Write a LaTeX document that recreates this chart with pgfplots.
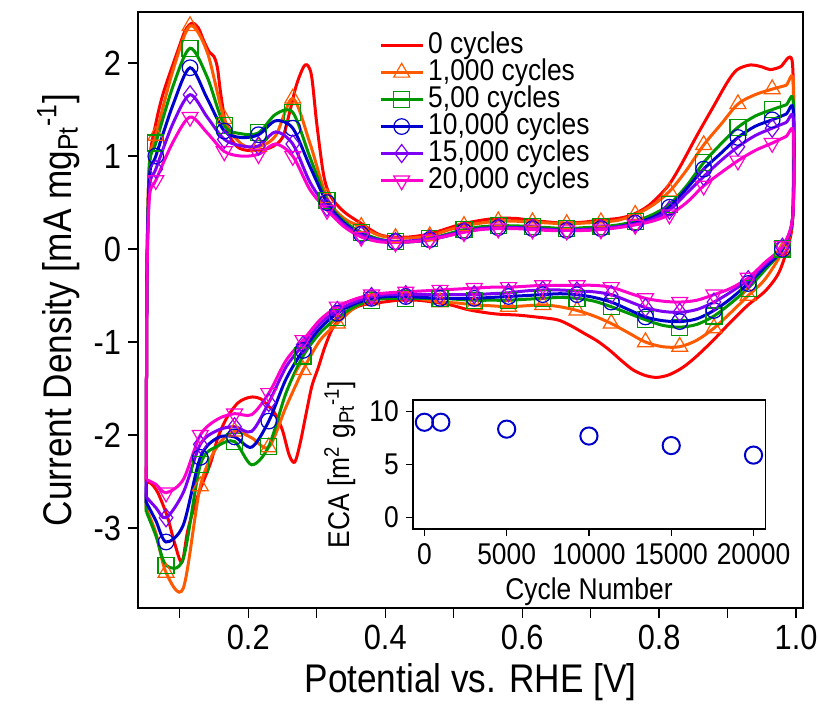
\documentclass[border=0pt]{standalone}
\usepackage{fontspec}
\setmainfont{Liberation Sans}[FakeStretch=0.88]
\usepackage{pgfplots}
\pgfplotsset{compat=1.18}
\definecolor{cRed}{RGB}{255,0,0}
\definecolor{cOrange}{RGB}{255,90,0}
\definecolor{cGreen}{RGB}{0,150,0}
\definecolor{cBlue}{RGB}{0,0,204}
\definecolor{cPurple}{RGB}{125,0,245}
\definecolor{cMag}{RGB}{255,0,204}
\tikzset{mk/.style={mark indices={5,7,9,11,13,15,17,19,21,23,25,27,29,31,33,35,37,39,41,45,47,49,51,53,55,57,59,61,63,65,67,69,71,73,75,77,79,81}}}
\begin{document}
\begin{tikzpicture}
\useasboundingbox (-69pt,-48pt) rectangle (340pt,304pt);
\begin{axis}[
  at={(0,0)}, anchor=south west,
  scale only axis, width=332.5pt, height=298pt,
  xmin=0.039, xmax=1.010, ymin=-3.86, ymax=2.55,
  xtick={0.2,0.4,0.6,0.8,1.0}, xticklabels={0.2,0.4,0.6,0.8,1.0},
  minor xtick={0.1,0.3,0.5,0.7,0.9},
  ytick={-3,-2,-1,0,1,2}, yticklabels={-3,-2,-1,0,1,2},
  tick pos=left, tick align=outside,
  major tick length=5pt, minor tick length=5pt,
  tick style={black, line width=0.7pt},
  axis line style={line width=0.7pt},
  ticklabel style={font=\fontsize{17.5}{17.5}\selectfont},
  label style={font=\fontsize{20}{20}\selectfont},
  xlabel={Potential vs. RHE [V]},
  ylabel={Current Density [mA mg\textsubscript{Pt}\textsuperscript{-1}]},
  legend cell align=left,
  legend style={at={(0.362,0.967)}, anchor=north west, draw=none, fill=none,
    inner sep=0pt, font=\fontsize{15}{15}\selectfont,
    nodes={inner ysep=0pt, inner xsep=2pt, text height=10.5pt, text depth=3pt}},
  legend image code/.code={\draw[mark indices={2}] plot coordinates {(0cm,0cm) (0.37cm,0cm) (0.74cm,0cm)};},
  every axis plot/.append style={smooth, line width=1.5pt},
]
% 0 cycles
\addplot[cRed, no marks] coordinates {
(0.051,-2.50)(0.0515,-1.20)(0.0525,0.00)(0.056,0.95)(0.065,1.35)(0.076,1.68)(0.096,2.11)(0.108,2.35)(0.118,2.43)(0.127,2.38)(0.135,2.24)(0.143,2.12)(0.150,2.07)(0.155,1.95)(0.160,1.66)(0.169,1.28)(0.184,1.10)(0.203,1.06)(0.232,1.09)(0.250,1.20)(0.261,1.49)(0.271,1.78)(0.283,1.98)(0.292,1.88)(0.300,1.35)(0.310,0.80)(0.320,0.57)(0.340,0.40)(0.364,0.28)(0.390,0.16)(0.410,0.13)(0.435,0.13)(0.463,0.16)(0.490,0.22)(0.512,0.27)(0.540,0.31)(0.563,0.33)(0.590,0.33)(0.612,0.31)(0.640,0.29)(0.661,0.28)(0.690,0.29)(0.711,0.31)(0.740,0.33)(0.761,0.37)(0.785,0.47)(0.812,0.67)(0.830,0.88)(0.855,1.22)(0.879,1.53)(0.900,1.80)(0.914,1.93)(0.933,1.98)(0.950,1.96)(0.962,1.93)(0.977,1.96)(0.994,2.03)(0.996,1.20)(0.995,0.35)(0.990,0.08)(0.975,-0.25)(0.955,-0.45)(0.930,-0.60)(0.905,-0.78)(0.879,-0.98)(0.855,-1.15)(0.835,-1.27)(0.815,-1.35)(0.797,-1.38)(0.780,-1.36)(0.762,-1.30)(0.745,-1.20)(0.728,-1.09)(0.710,-0.99)(0.689,-0.90)(0.670,-0.82)(0.651,-0.76)(0.620,-0.73)(0.593,-0.71)(0.565,-0.70)(0.543,-0.68)(0.520,-0.65)(0.495,-0.60)(0.470,-0.57)(0.447,-0.55)(0.420,-0.55)(0.397,-0.57)(0.375,-0.59)(0.359,-0.62)(0.340,-0.71)(0.324,-0.84)(0.312,-1.05)(0.302,-1.28)(0.293,-1.47)(0.285,-1.75)(0.276,-2.08)(0.268,-2.29)(0.260,-2.22)(0.250,-1.95)(0.240,-1.78)(0.230,-1.69)(0.218,-1.61)(0.206,-1.59)(0.195,-1.61)(0.184,-1.66)(0.169,-1.81)(0.156,-2.02)(0.145,-2.30)(0.130,-2.58)(0.120,-2.80)(0.111,-3.05)(0.103,-3.37)(0.092,-3.15)(0.082,-2.88)(0.068,-2.62)(0.058,-2.52)(0.0515,-2.50)
};
\addlegendentry{0 cycles}
% 1,000 cycles
\addplot[cOrange, mark=triangle, mark size=4.6pt, mark options={solid, line width=0.6pt}, mk] coordinates {
(0.051,-2.80)(0.0515,-1.20)(0.0525,0.00)(0.056,0.95)
(0.065,1.22)(0.090,1.92)(0.115,2.40)(0.140,2.12)(0.165,1.40)(0.190,1.13)(0.215,1.10)(0.240,1.22)(0.265,1.62)(0.290,1.14)(0.315,0.55)(0.340,0.33)(0.365,0.24)(0.390,0.15)(0.415,0.12)(0.440,0.12)(0.465,0.14)(0.490,0.20)(0.515,0.25)(0.540,0.28)(0.565,0.30)(0.590,0.30)(0.615,0.29)(0.640,0.28)(0.665,0.27)(0.690,0.28)(0.715,0.29)(0.740,0.31)(0.765,0.37)(0.790,0.47)(0.815,0.62)(0.840,0.85)(0.865,1.12)(0.890,1.34)(0.915,1.56)(0.940,1.66)(0.965,1.72)
(0.985,1.76)(0.996,1.78)(0.995,0.35)
(0.980,-0.02)(0.955,-0.32)(0.930,-0.50)(0.905,-0.68)(0.880,-0.85)(0.855,-0.98)(0.830,-1.05)(0.805,-1.05)(0.780,-1.00)(0.755,-0.90)(0.730,-0.80)(0.705,-0.72)(0.680,-0.66)(0.655,-0.62)(0.630,-0.60)(0.605,-0.61)(0.580,-0.62)(0.555,-0.61)(0.530,-0.60)(0.505,-0.58)(0.480,-0.57)(0.455,-0.54)(0.430,-0.51)(0.405,-0.51)(0.380,-0.55)(0.355,-0.63)(0.330,-0.80)(0.305,-0.98)(0.280,-1.30)(0.255,-1.70)(0.230,-2.13)(0.205,-2.03)(0.180,-1.96)(0.155,-2.12)(0.130,-2.55)(0.105,-3.65)(0.080,-3.48)
(0.065,-3.05)(0.0515,-2.80)
};
\addlegendentry{1,000 cycles}
% 5,000 cycles
\addplot[cGreen, mark=square, mark size=4pt, mark options={solid, line width=0.6pt}, mk] coordinates {
(0.051,-2.83)(0.0515,-1.20)(0.0525,0.00)(0.056,0.92)
(0.065,1.14)(0.090,1.75)(0.115,2.16)(0.140,1.85)(0.165,1.33)(0.190,1.24)(0.215,1.25)(0.240,1.45)(0.265,1.47)(0.290,0.99)(0.315,0.52)(0.340,0.30)(0.365,0.18)(0.390,0.11)(0.415,0.08)(0.440,0.08)(0.465,0.11)(0.490,0.16)(0.515,0.21)(0.540,0.24)(0.565,0.25)(0.590,0.25)(0.615,0.24)(0.640,0.23)(0.665,0.22)(0.690,0.23)(0.715,0.24)(0.740,0.26)(0.765,0.30)(0.790,0.37)(0.815,0.48)(0.840,0.68)(0.865,0.93)(0.890,1.13)(0.915,1.31)(0.940,1.43)(0.965,1.50)
(0.985,1.55)(0.996,1.57)(0.995,0.35)
(0.980,0.00)(0.955,-0.22)(0.930,-0.42)(0.905,-0.58)(0.880,-0.72)(0.855,-0.81)(0.830,-0.84)(0.805,-0.82)(0.780,-0.76)(0.755,-0.69)(0.730,-0.62)(0.705,-0.56)(0.680,-0.53)(0.655,-0.52)(0.630,-0.53)(0.605,-0.54)(0.580,-0.55)(0.555,-0.55)(0.530,-0.55)(0.505,-0.54)(0.480,-0.53)(0.455,-0.53)(0.430,-0.53)(0.405,-0.53)(0.380,-0.55)(0.355,-0.62)(0.330,-0.74)(0.305,-0.90)(0.280,-1.15)(0.255,-1.55)(0.230,-2.12)(0.205,-2.32)(0.180,-2.07)(0.155,-2.12)(0.130,-2.32)(0.105,-3.33)(0.080,-3.40)
(0.065,-3.08)(0.0515,-2.83)
};
\addlegendentry{5,00 cycles}
% 10,000 cycles
\addplot[cBlue, mark=o, mark size=3.9pt, mark options={solid, line width=0.6pt}, mk] coordinates {
(0.051,-2.73)(0.0515,-1.20)(0.0525,-0.05)(0.056,0.80)
(0.065,1.00)(0.090,1.55)(0.115,1.95)(0.140,1.62)(0.165,1.27)(0.190,1.20)(0.215,1.23)(0.240,1.38)(0.265,1.30)(0.290,0.89)(0.315,0.50)(0.340,0.28)(0.365,0.16)(0.390,0.10)(0.415,0.08)(0.440,0.08)(0.465,0.10)(0.490,0.14)(0.515,0.19)(0.540,0.22)(0.565,0.23)(0.590,0.23)(0.615,0.22)(0.640,0.21)(0.665,0.20)(0.690,0.21)(0.715,0.22)(0.740,0.24)(0.765,0.28)(0.790,0.34)(0.815,0.45)(0.840,0.65)(0.865,0.86)(0.890,1.03)(0.915,1.20)(0.940,1.32)(0.965,1.39)
(0.985,1.45)(0.996,1.48)(0.995,0.35)
(0.980,0.00)(0.955,-0.19)(0.930,-0.37)(0.905,-0.53)(0.880,-0.66)(0.855,-0.75)(0.830,-0.78)(0.805,-0.77)(0.780,-0.73)(0.755,-0.65)(0.730,-0.57)(0.705,-0.52)(0.680,-0.49)(0.655,-0.48)(0.630,-0.49)(0.605,-0.50)(0.580,-0.51)(0.555,-0.52)(0.530,-0.53)(0.505,-0.53)(0.480,-0.53)(0.455,-0.52)(0.430,-0.51)(0.405,-0.51)(0.380,-0.53)(0.355,-0.59)(0.330,-0.69)(0.305,-0.85)(0.280,-1.09)(0.255,-1.40)(0.230,-1.85)(0.205,-2.13)(0.180,-2.02)(0.155,-2.03)(0.130,-2.24)(0.105,-2.97)(0.080,-3.15)
(0.065,-2.92)(0.0515,-2.73)
};
\addlegendentry{10,000 cycles}
% 15,000 cycles
\addplot[cPurple, mark=diamond, mark size=4.5pt, mark options={solid, line width=0.6pt}, mk] coordinates {
(0.051,-2.67)(0.0515,-1.20)(0.0525,-0.10)(0.056,0.68)
(0.065,0.86)(0.090,1.35)(0.115,1.66)(0.140,1.42)(0.165,1.18)(0.190,1.11)(0.215,1.11)(0.240,1.26)(0.265,1.13)(0.290,0.72)(0.315,0.45)(0.340,0.26)(0.365,0.15)(0.390,0.10)(0.415,0.08)(0.440,0.09)(0.465,0.11)(0.490,0.15)(0.515,0.19)(0.540,0.22)(0.565,0.23)(0.590,0.23)(0.615,0.22)(0.640,0.21)(0.665,0.20)(0.690,0.21)(0.715,0.22)(0.740,0.24)(0.765,0.27)(0.790,0.32)(0.815,0.42)(0.840,0.60)(0.865,0.78)(0.890,0.95)(0.915,1.10)(0.940,1.22)(0.965,1.30)
(0.985,1.36)(0.996,1.39)(0.995,0.35)
(0.980,0.02)(0.955,-0.16)(0.930,-0.33)(0.905,-0.46)(0.880,-0.57)(0.855,-0.65)(0.830,-0.68)(0.805,-0.67)(0.780,-0.63)(0.755,-0.56)(0.730,-0.49)(0.705,-0.46)(0.680,-0.45)(0.655,-0.44)(0.630,-0.44)(0.605,-0.45)(0.580,-0.47)(0.555,-0.48)(0.530,-0.49)(0.505,-0.49)(0.480,-0.49)(0.455,-0.49)(0.430,-0.49)(0.405,-0.49)(0.380,-0.51)(0.355,-0.57)(0.330,-0.66)(0.305,-0.80)(0.280,-1.03)(0.255,-1.27)(0.230,-1.65)(0.205,-1.96)(0.180,-1.91)(0.155,-1.95)(0.130,-2.10)(0.105,-2.62)(0.080,-2.89)
(0.065,-2.78)(0.0515,-2.67)
};
\addlegendentry{15,000 cycles}
% 20,000 cycles
\addplot[cMag, mark=triangle, mark size=4.6pt, mark options={solid, rotate=180, line width=0.6pt}, mk] coordinates {
(0.051,-2.48)(0.0515,-1.20)(0.0525,-0.15)(0.056,0.58)
(0.065,0.74)(0.090,1.15)(0.115,1.42)(0.140,1.25)(0.165,1.05)(0.190,1.00)(0.215,1.02)(0.240,1.13)(0.265,1.00)(0.290,0.64)(0.315,0.42)(0.340,0.24)(0.365,0.13)(0.390,0.08)(0.415,0.07)(0.440,0.08)(0.465,0.10)(0.490,0.14)(0.515,0.18)(0.540,0.21)(0.565,0.22)(0.590,0.22)(0.615,0.21)(0.640,0.20)(0.665,0.20)(0.690,0.20)(0.715,0.21)(0.740,0.23)(0.765,0.26)(0.790,0.30)(0.815,0.37)(0.840,0.50)(0.865,0.68)(0.890,0.82)(0.915,0.95)(0.940,1.06)(0.965,1.14)
(0.985,1.21)(0.996,1.25)(0.995,0.35)
(0.980,0.03)(0.955,-0.14)(0.930,-0.31)(0.905,-0.42)(0.880,-0.49)(0.855,-0.55)(0.830,-0.57)(0.805,-0.56)(0.780,-0.53)(0.755,-0.47)(0.730,-0.41)(0.705,-0.39)(0.680,-0.39)(0.655,-0.39)(0.630,-0.39)(0.605,-0.40)(0.580,-0.41)(0.555,-0.41)(0.530,-0.42)(0.505,-0.43)(0.480,-0.44)(0.455,-0.45)(0.430,-0.46)(0.405,-0.47)(0.380,-0.49)(0.355,-0.54)(0.330,-0.62)(0.305,-0.76)(0.280,-0.98)(0.255,-1.20)(0.230,-1.55)(0.205,-1.78)(0.180,-1.77)(0.155,-1.83)(0.130,-2.00)(0.105,-2.48)(0.080,-2.62)
(0.065,-2.53)(0.0515,-2.48)
};
\addlegendentry{20,000 cycles}
\end{axis}
\begin{axis}[
  at={(137.4pt,39.5pt)}, anchor=south west,
  scale only axis, width=176.2pt, height=64.5pt,
  xmin=-705, xmax=20711, ymin=-1.07, ymax=11.1,
  scaled x ticks=false, scaled y ticks=false,
  xtick={0,5000,10000,15000,20000}, xticklabels={0,5000,10000,15000,20000},
  ytick={0,5,10}, yticklabels={0,5,10},
  tick pos=left, tick align=outside, major tick length=3.5pt,
  tick style={black, line width=0.7pt},
  axis line style={line width=0.7pt},
  axis background/.style={fill=white},
  ticklabel style={font=\fontsize{15}{15}\selectfont},
  label style={font=\fontsize{15}{15}\selectfont},
  xlabel={Cycle Number},
  ylabel={ECA [m\textsuperscript{2} g\textsubscript{Pt}\textsuperscript{-1}]},
]
\addplot[only marks, mark=o, mark size=4.3pt, cBlue, line width=1pt] coordinates {(0,9.0)(1000,9.0)(5000,8.35)(10000,7.7)(15000,6.8)(20000,5.9)};
\end{axis}
\end{tikzpicture}
\end{document}
